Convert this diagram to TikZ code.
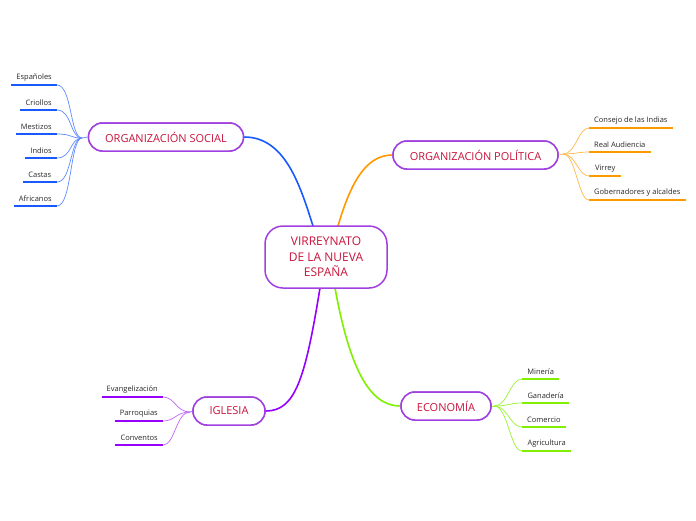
\documentclass[tikz,border=0pt]{standalone}
\usepackage{fontspec}
\setmainfont{Open Sans}
\begin{document}
\begin{tikzpicture}[x=1pt,y=-1pt,
  mainbox/.style={draw=nodepurple, line width=1.5pt, rounded corners=14pt, fill=white,
    text=crimson, font=\fontsize{11}{13}\selectfont, minimum height=28pt, inner sep=0pt},
  centerbox/.style={draw=nodepurple, line width=1.5pt, rounded corners=18pt, fill=white,
    text=crimson, font=\fontsize{12}{15.5}\selectfont, minimum height=62pt, minimum width=122pt,
    inner sep=0pt, align=center},
  leaf/.style={font=\fontsize{7.5}{9}\selectfont, text=textgray, inner xsep=5pt, inner ysep=4pt},
  trunk/.style={line width=1.6pt},
  twig/.style={line width=0.7pt},
  uline/.style={line width=1.8pt}
]
\definecolor{nodepurple}{RGB}{160,64,224}
\definecolor{crimson}{RGB}{200,20,60}
\definecolor{textgray}{RGB}{40,40,40}
\definecolor{cblue}{RGB}{25,90,255}
\definecolor{corange}{RGB}{255,153,0}
\definecolor{cgreen}{RGB}{128,240,0}
\definecolor{cpurple}{RGB}{150,0,255}
\useasboundingbox (0,0) rectangle (696,520);
\fill[white] (0,0) rectangle (696,520);

% main connectors (drawn first)
\coordinate (ctop1) at (313,226);
\coordinate (ctop2) at (338,226);
\coordinate (cbot1) at (320,288);
\coordinate (cbot2) at (335,288);

\node[mainbox, minimum width=155pt] (social) at (166,137) {ORGANIZACIÓN SOCIAL};
\node[mainbox, minimum width=165pt] (politica) at (475.5,155) {ORGANIZACIÓN POLÍTICA};
\node[mainbox, minimum width=90pt] (economia) at (446,406) {ECONOMÍA};
\node[mainbox, minimum width=72pt] (iglesia) at (229,411) {IGLESIA};

\draw[trunk, cblue] (ctop1) .. controls (300,185) and (285,137) .. (social.east);
\draw[trunk, corange] (ctop2) .. controls (350,185) and (365,155) .. (politica.west);
\draw[trunk, cgreen] (cbot2) .. controls (350,370) and (370,406) .. (economia.west);
\draw[trunk, cpurple] (cbot1) .. controls (305,380) and (295,411) .. (iglesia.east);

\node[centerbox] (center) at (326,257) {VIRREYNATO\\DE LA NUEVA\\ESPAÑA};
\node[mainbox, minimum width=155pt] at (social) {ORGANIZACIÓN SOCIAL};
\node[mainbox, minimum width=165pt] at (politica) {ORGANIZACIÓN POLÍTICA};
\node[mainbox, minimum width=90pt] at (economia) {ECONOMÍA};
\node[mainbox, minimum width=72pt] at (iglesia) {IGLESIA};

% ---------- Social leaves ----------
\coordinate (sj) at (82,138);
\draw[twig, cblue!70] (social.west) -- (sj);
\foreach \name/\txt/\y/\w in {s1/Españoles/85/45, s2/Criollos/110/36, s3/Mestizos/134/41,
    s4/Indios/158/31, s5/Castas/182/34, s6/Africanos/206/43}{
  \node[leaf, anchor=south east, minimum width=\w pt, align=right] (\name) at (57,\y) {\hfill\txt};
  \draw[uline, cblue] (\name.south west) -- (\name.south east);
  \draw[twig, cblue!70] (sj) .. controls (70,138) and (72,\y) .. (\name.south east);
}

% ---------- Politica leaves ----------
\coordinate (pj) at (563,154);
\draw[twig, corange!70] (politica.east) -- (pj);
\foreach \name/\txt/\y/\w in {p1/Consejo de las Indias/128/83, p2/Real Audiencia/152/61,
    p3/Virrey/176/32, p4/Gobernadores y alcaldes/200/96}{
  \node[leaf, anchor=south west, minimum width=\w pt] (\name) at (589,\y) {\txt\hfill};
  \draw[uline, corange] (\name.south west) -- (\name.south east);
  \draw[twig, corange!70] (pj) .. controls (576,154) and (578,\y) .. (\name.south west);
}

% ---------- Economia leaves ----------
\coordinate (ej) at (494,406);
\draw[twig, cgreen!80] (economia.east) -- (ej);
\foreach \name/\txt/\y/\w in {e1/Minería/379/37, e2/Ganadería/403/47,
    e3/Comercio/427/43, e4/Agricultura/451/49}{
  \node[leaf, anchor=south west, minimum width=\w pt] (\name) at (522,\y) {\txt\hfill};
  \draw[uline, cgreen] (\name.south west) -- (\name.south east);
  \draw[twig, cgreen!80] (ej) .. controls (508,406) and (510,\y) .. (\name.south west);
}

% ---------- Iglesia leaves ----------
\coordinate (ij) at (190,412);
\draw[twig, cpurple!60] (iglesia.west) -- (ij);
\foreach \name/\txt/\y/\w in {i1/Evangelización/397/61, i2/Parroquias/421/48,
    i3/Conventos/445/46}{
  \node[leaf, anchor=south east, minimum width=\w pt] (\name) at (163,\y) {\hfill\txt};
  \draw[uline, cpurple] (\name.south west) -- (\name.south east);
  \draw[twig, cpurple!60] (ij) .. controls (176,412) and (175,\y) .. (\name.south east);
}
\end{tikzpicture}
\end{document}
